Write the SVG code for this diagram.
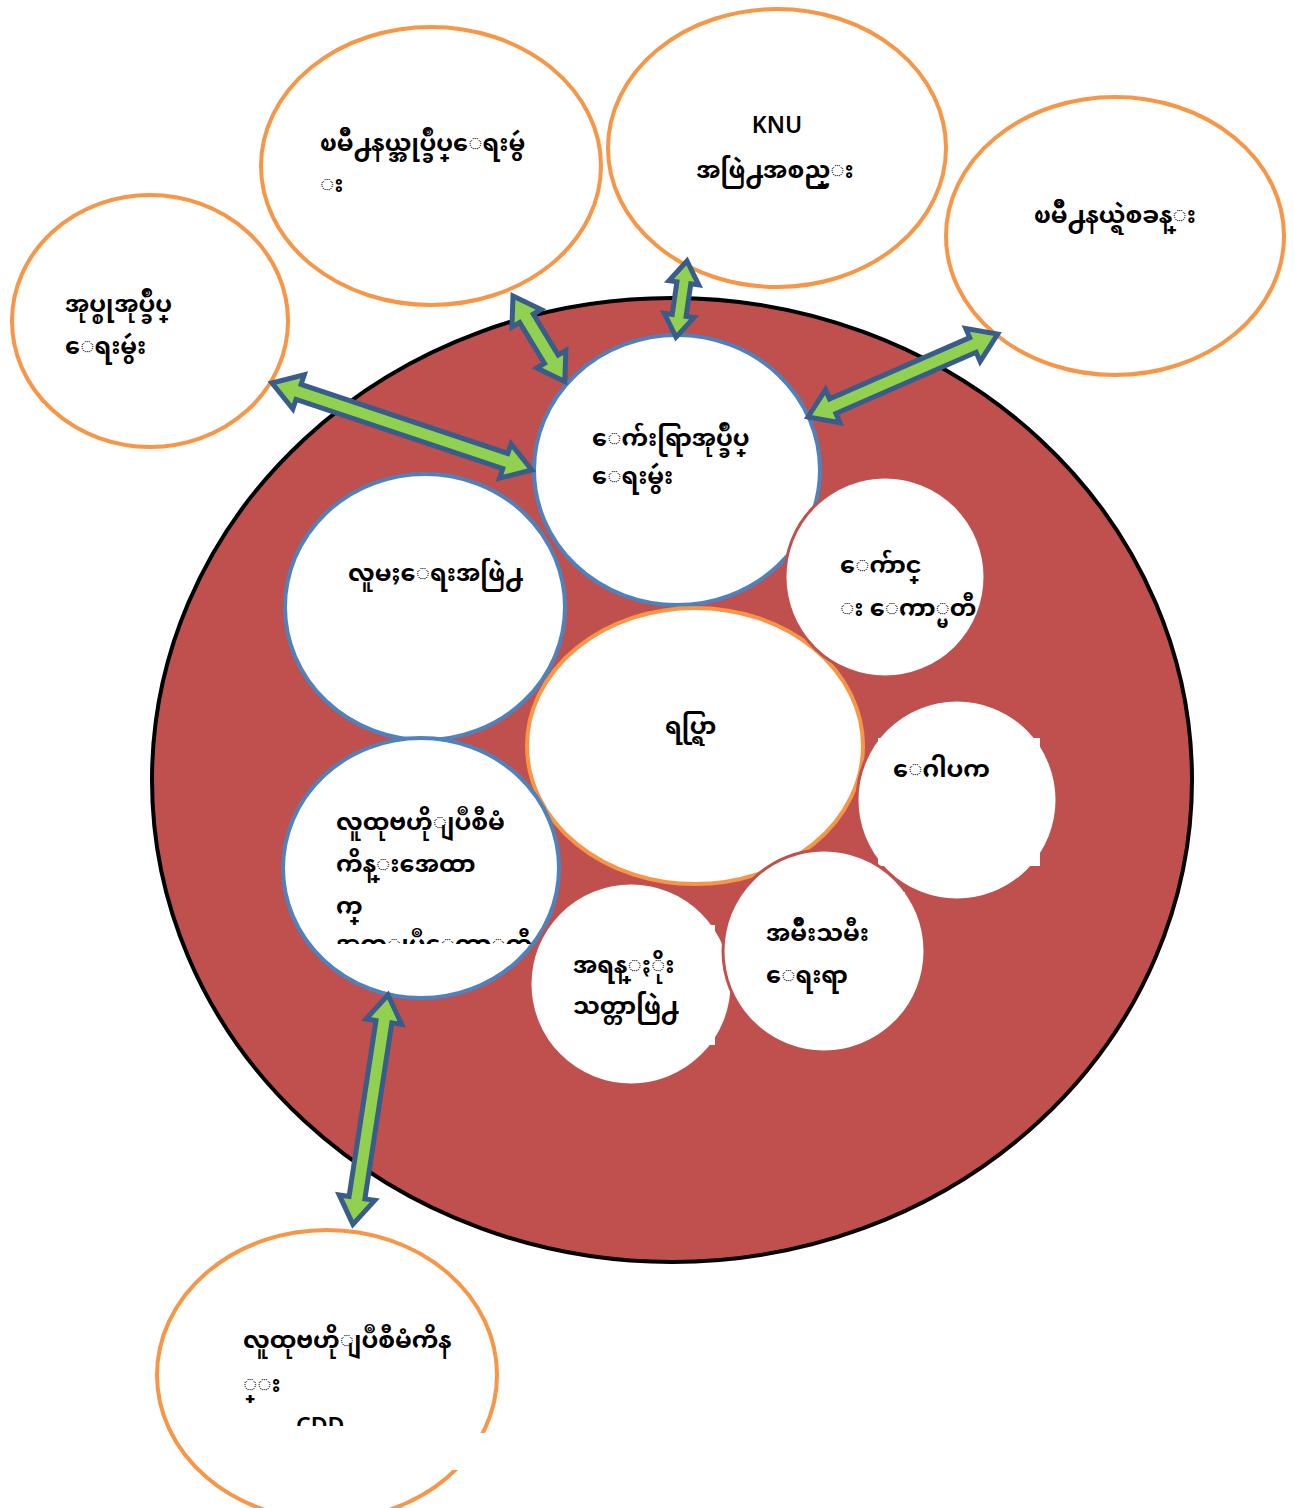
<svg xmlns="http://www.w3.org/2000/svg" width="1294" height="1508" viewBox="0 0 1294 1508">
<defs>
<style>
.t{font-family:"Noto Sans Myanmar","Padauk","Myanmar Text","Noto Sans","DejaVu Sans",sans-serif;font-size:24px;font-weight:bold;fill:#000}
.lat{font-family:"Noto Sans","Open Sans",sans-serif;font-size:23px;font-weight:600;fill:#000}
.outer{fill:#fff;stroke:#F79646;stroke-width:4}
.blue{fill:#fff;stroke:#4F81BD;stroke-width:4}
.red{fill:#fff;stroke:#C0504D;stroke-width:3}
.arr{fill:#92D050;stroke:#385D8A;stroke-width:5;stroke-linejoin:miter}
</style>
<clipPath id="clipF"><rect x="280" y="740" width="280" height="204"/></clipPath>
<clipPath id="clipCDD"><rect x="150" y="1230" width="350" height="196"/></clipPath>
</defs>
<rect width="1294" height="1508" fill="#fff"/>

<g id="outer-left"><ellipse class="outer" cx="150" cy="321" rx="138" ry="126"/>
<text class="t" x="65" y="312">အုပ္စုအုပ္ခ်ဳပ္</text><text class="t" x="65" y="354">ေရးမွဴး</text></g>
<g id="outer-topleft"><ellipse class="outer" cx="431" cy="166" rx="170" ry="139"/>
<text class="t" x="320" y="151">ၿမိဳ႕နယ္အုပ္ခ်ဳပ္ေရးမွဴ</text><text class="t" x="320" y="192">း</text></g>
<g id="outer-top"><ellipse class="outer" cx="777" cy="148" rx="169" ry="139"/>
<text class="lat" x="777" y="133" text-anchor="middle">KNU</text><text class="t" x="775" y="178" text-anchor="middle">အဖြဲ႕အစည္း</text></g>
<g id="outer-right"><ellipse class="outer" cx="1115" cy="236" rx="169" ry="139"/>
<text class="t" x="1115" y="223" text-anchor="middle">ၿမိဳ႕နယ္ရဲစခန္း</text></g>

<g id="main"><ellipse cx="672" cy="780" rx="520" ry="482" fill="#C0504D" stroke="#000" stroke-width="4"/></g>

<g id="village-admin"><ellipse class="blue" cx="677" cy="470" rx="143" ry="135"/>
<text class="t" x="592" y="446">ေက်းရြာအုပ္ခ်ဳပ္</text><text class="t" x="592" y="484">ေရးမွဴး</text></g>
<g id="social"><ellipse class="blue" cx="425" cy="607" rx="140" ry="133"/>
<text class="t" x="348" y="581">လူမႈေရးအဖြဲ႕</text></g>
<g id="community"><ellipse cx="695" cy="746" rx="168" ry="138" fill="#fff" stroke="#F79646" stroke-width="4"/>
<text class="t" x="665" y="734">ရပ္ရြာ</text></g>
<g id="cdd-committee"><ellipse class="blue" cx="421" cy="868" rx="138" ry="130"/>
<g clip-path="url(#clipF)"><text class="t" x="336" y="830">လူထုဗဟိုျပဳစီမံ</text><text class="t" x="336" y="872">ကိန္းအေထာ</text><text class="t" x="336" y="914">က္</text><text class="t" x="336" y="952">အကူျပဳေကာ္မတီ</text></g></g>
<g id="school"><circle class="red" cx="885" cy="577" r="100"/>
<text class="t" x="840" y="573">ေက်ာင္</text><text class="t" x="840" y="616">း ေကာ္မတီ</text></g>
<g id="gopaka"><circle class="red" cx="957" cy="800" r="100"/><rect x="878" y="738" width="162" height="128" fill="#fff"/>
<text class="t" x="893" y="777">ေဂါပက</text></g>
<g id="reserve"><circle class="red" cx="631" cy="984" r="101"/><rect x="562" y="925" width="153" height="120" fill="#fff"/>
<text class="t" x="573" y="973">အရန္ႏိုး</text><text class="t" x="573" y="1014">သတ္တာဖြဲ႕</text></g>
<g id="women"><circle class="red" cx="824" cy="951" r="101"/><rect x="748" y="892" width="157" height="116" fill="#fff"/>
<text class="t" x="766" y="941">အမ်ိဳးသမီး</text><text class="t" x="766" y="983">ေရးရာ</text></g>

<g id="outer-bottom"><ellipse class="outer" cx="327" cy="1375" rx="170" ry="145"/><rect x="240" y="1433" width="246" height="37" fill="#fff"/>
<text class="t" x="243" y="1348">လူထုဗဟိုျပဳစီမံကိန</text><text class="t" x="243" y="1392">္း</text>
<g clip-path="url(#clipCDD)"><text class="lat" x="296" y="1434">CDD</text></g></g>

<g id="connectors">
<path class="arr" transform="translate(272,383) rotate(18.5)" d="M0,0 L28,-18 L28,-8 L246,-8 L246,-18 L274,0 L246,18 L246,8 L28,8 L28,18 Z"/>
<path class="arr" transform="translate(513,296) rotate(58.8)" d="M0,0 L26,-17 L26,-8 L74,-8 L74,-17 L100,0 L74,17 L74,8 L26,8 L26,17 Z"/>
<path class="arr" transform="translate(687,261) rotate(98.2)" d="M0,0 L22,-15 L22,-7 L55,-7 L55,-15 L77,0 L55,15 L55,7 L22,7 L22,15 Z"/>
<path class="arr" transform="translate(808,417) rotate(-23.6)" d="M0,0 L27,-18 L27,-8 L180,-8 L180,-18 L207,0 L180,18 L180,8 L27,8 L27,18 Z"/>
<path class="arr" transform="translate(388,995) rotate(98.7)" d="M0,0 L27,-18 L27,-8 L205,-8 L205,-18 L232,0 L205,18 L205,8 L27,8 L27,18 Z"/>
</g>
</svg>
